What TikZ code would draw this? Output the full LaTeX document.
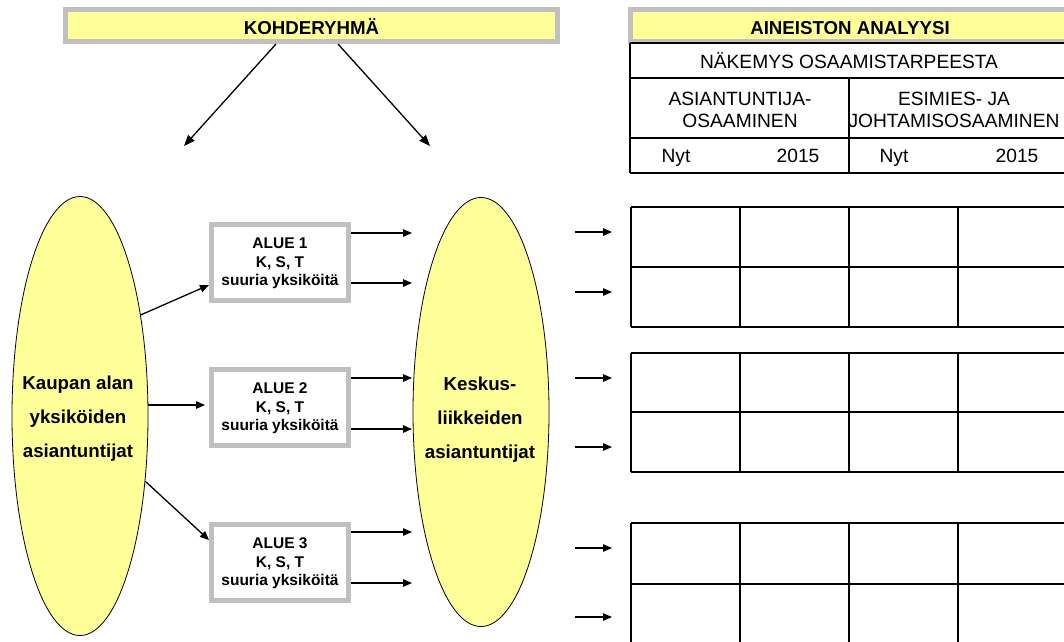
\documentclass[tikz,border=0pt]{standalone}
\usepackage{fontspec}
\setmainfont{Liberation Sans}
\usetikzlibrary{shapes.geometric,arrows.meta}
\definecolor{paleyellow}{HTML}{FFFF99}
\definecolor{framegrey}{HTML}{C0C0C0}
\begin{document}
\begin{tikzpicture}[x=1pt,y=-1pt,
  header/.style={draw=framegrey, line width=5pt, fill=paleyellow, inner sep=0pt,
    minimum height=32pt, text height=18pt, text depth=0pt,
    font=\fontsize{18.7}{22}\selectfont\bfseries},
  areabox/.style={draw=framegrey, line width=5pt, fill=white, minimum width=137pt,
    minimum height=76pt, inner sep=0pt},
  areatext/.style={align=center, font=\fontsize{15.5}{18.5}\selectfont\bfseries, inner sep=0pt},
  group/.style={ellipse, draw, line width=0.8pt, fill=paleyellow, minimum width=136pt, inner sep=0pt},
  grouptext/.style={align=center, font=\fontsize{18.7}{34}\selectfont\bfseries, inner sep=0pt},
  link/.style={line width=1.3pt, -{Triangle[length=9pt,width=7.5pt]}},
  biglink/.style={line width=1.3pt, -{Triangle[length=11pt,width=8.5pt]}},
  cell/.style={font=\fontsize{19.2}{22}\selectfont, inner sep=0pt, align=center},
  hline/.style={line width=1.3pt},
  vline/.style={line width=1.8pt}
]
\useasboundingbox (0,0) rectangle (1064,641);
\begin{scope}
\clip (0,0) rectangle (1064,641);

% ---- headers ----
\node[header, minimum width=492pt] (kh) at (311.5,25.5) {KOHDERYHMÄ};
\node[header, minimum width=439pt] (ah) at (850,25.5) {AINEISTON ANALYYSI};

% ---- target group arrows ----
\coordinate (k1) at (276,44);
\coordinate (k2) at (338,44);
\coordinate (k1e) at (184,146);
\coordinate (k2e) at (430,146);
\draw[biglink] (k1) -- (k1e);
\draw[biglink] (k2) -- (k2e);

% ---- analysis table head ----
\draw[hline] (630,43) -- (1070,43);
\draw[hline] (630,78) -- (1070,78);
\draw[hline] (630,138) -- (1070,138);
\draw[hline] (630,173) -- (1070,173);
\draw[vline] (630,43) -- (630,173);
\draw[vline] (849,78) -- (849,173);
\draw[vline] (1067,43) -- (1067,173);
\node[cell, anchor=base] (nk) at (849,68) {NÄKEMYS OSAAMISTARPEESTA};
\node[cell] (c1) at (740,110) {ASIANTUNTIJA-\\OSAAMINEN};
\node[cell] (c2) at (954,110) {ESIMIES- JA\\JOHTAMISOSAAMINEN};
\node[cell, anchor=base] (n1) at (676,162) {Nyt};
\node[cell, anchor=base] (y1) at (798,162) {2015};
\node[cell, anchor=base] (n2) at (894,162) {Nyt};
\node[cell, anchor=base] (y2) at (1017,162) {2015};

% ---- answer grids ----
\foreach \ytop/\ymid/\ybot in {207/267/327, 353/412/472, 523/584/645} {
  \draw[hline] (631,\ytop) -- (1067,\ytop);
  \draw[hline] (631,\ymid) -- (1067,\ymid);
  \draw[hline] (631,\ybot) -- (1067,\ybot);
  \foreach \x in {631,740,849,958,1067}
    \draw[vline] (\x,\ytop) -- (\x,\ybot);
}

% ---- ellipses ----
\node[group, minimum height=439pt] (L) at (80,416) {};
\node[grouptext] (Lt) at (78,419) {Kaupan alan\\yksiköiden\\asiantuntijat};
\node[group, minimum height=429pt] (M) at (481,412) {};
\node[grouptext] (Mt) at (480,420) {Keskus-\\liikkeiden\\asiantuntijat};

% ---- area boxes ----
\node[areabox] (b1) at (280,262.5) {};
\node[areatext] at (280,263.5) {ALUE 1\\K, S, T\\suuria yksiköitä};
\node[areabox] (b2) at (280,407.5) {};
\node[areatext] at (280,408.5) {ALUE 2\\K, S, T\\suuria yksiköitä};
\node[areabox] (b3) at (280,562.5) {};
\node[areatext] at (280,563.5) {ALUE 3\\K, S, T\\suuria yksiköitä};

% ---- ellipse to boxes ----
\coordinate (in1) at (209,285);
\coordinate (in2) at (205,405);
\coordinate (in3) at (209,540);
\draw[link] (L.59) -- (in1);
\draw[link] (in2 -| L.east) -- (in2);
\draw[link] (L.-45) -- (in3);

% ---- boxes to central ellipse ----
\foreach \b/\ya/\yb in {b1/233/283, b2/378/429, b3/532/583} {
  \coordinate (\b a) at (412,\ya);
  \coordinate (\b b) at (412,\yb);
  \draw[link] (\b a -| \b.east) -- (\b a);
  \draw[link] (\b b -| \b.east) -- (\b b);
}

% ---- central ellipse to grids ----
\foreach \y [count=\i] in {232,292,378,447,548,617} {
  \coordinate (ts\i) at (575,\y);
  \coordinate (te\i) at (612,\y);
  \draw[link] (ts\i) -- (te\i);
}
\end{scope}
\end{tikzpicture}
\end{document}
